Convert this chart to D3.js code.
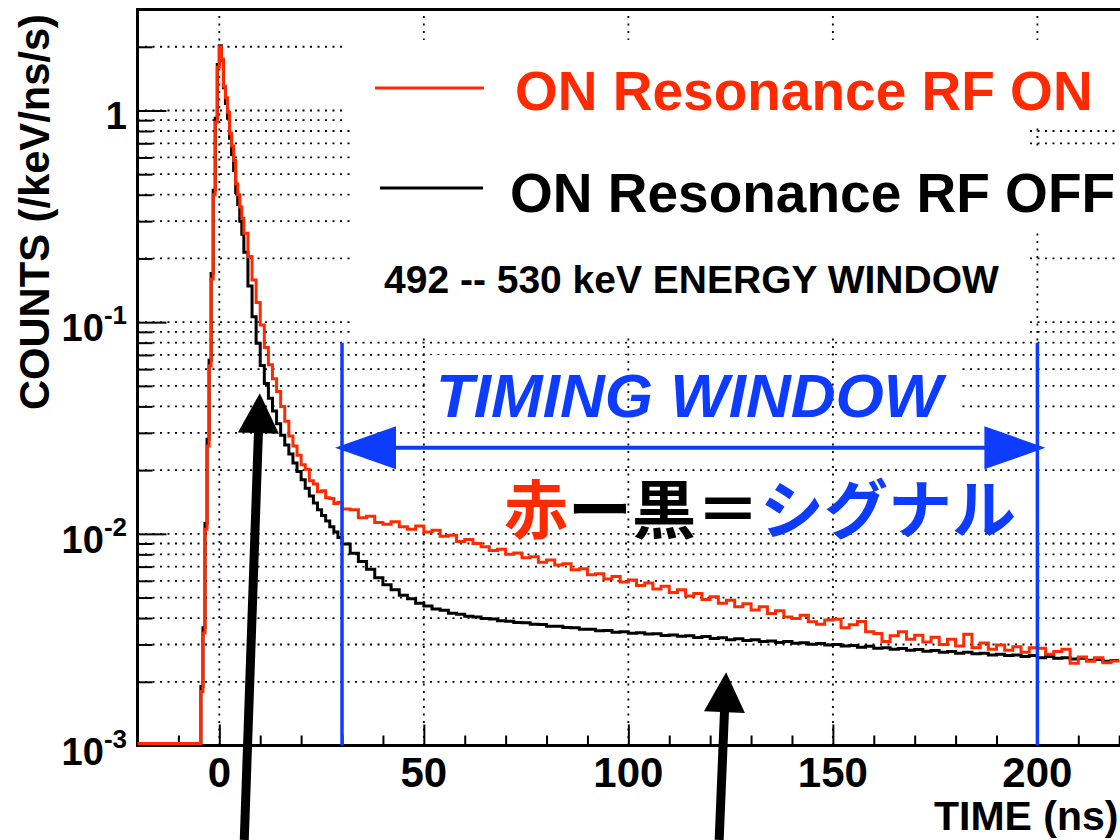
<!DOCTYPE html>
<html>
<head>
<meta charset="utf-8">
<script src="https://cdn.jsdelivr.net/npm/d3@7"></script>
<style>
  html, body { margin: 0; padding: 0; background: #fff; }
  svg { display: block; }
</style>
</head>
<body>
<div id="chart"></div>
<script>
// time binning (ns): [start, stop, width]
const timeSegments = [[-4.5, 6, 0.5], [6, 30, 1], [30, 221, 2]]
const timeStart = -20

// ON resonance, RF ON (red)
const rfOnPeak = [0.0018, 0.0034, 0.0105, 0.026, 0.062, 0.16, 0.40, 0.88, 1.6,
    2.0, 1.75, 1.3, 1.15, 0.98, 0.78, 0.68, 0.58, 0.45, 0.40, 0.35, 0.31]
const rfOnEarly = [0.263, 0.204, 0.158, 0.124, 0.097, 0.076, 0.063, 0.054, 0.047, 0.040,
    0.034, 0.029, 0.026, 0.0235, 0.0212, 0.0202, 0.0178, 0.0172, 0.0158, 0.0160,
    0.0148, 0.0147, 0.0139, 0.0141]
const rfOnTail = [0.0131, 0.0130, 0.0119, 0.0121, 0.0113, 0.0111, 0.0114, 0.0108, 0.0105, 0.0109,
    0.0102, 0.0104, 0.00975, 0.00985, 0.0092, 0.0094, 0.0090, 0.0087, 0.00835, 0.00845,
    0.0080, 0.00812, 0.0077, 0.0078, 0.00735, 0.00752, 0.00712, 0.00722, 0.00676, 0.00684,
    0.0064, 0.00648, 0.00612, 0.00628, 0.00592, 0.00606, 0.0057, 0.00586, 0.00548, 0.00565,
    0.00528, 0.00545, 0.00508, 0.00522, 0.0049, 0.00505, 0.0047, 0.00486, 0.00452, 0.00468,
    0.00437, 0.00452, 0.0042, 0.00433, 0.00405, 0.00398, 0.00412, 0.00384, 0.00374, 0.00392,
    0.00395, 0.0036, 0.00372, 0.00385, 0.00345, 0.00338, 0.0031, 0.0033, 0.00345, 0.00318,
    0.00332, 0.00308, 0.00325, 0.0030, 0.00318, 0.00295, 0.00335, 0.0029, 0.00305, 0.00285,
    0.00298, 0.00282, 0.00293, 0.00276, 0.0029, 0.00288, 0.0027, 0.00278, 0.00285, 0.00245,
    0.00262, 0.0025, 0.0026, 0.00246, 0.00251]

// ON resonance, RF OFF (black)
const rfOffPeak = [0.0019, 0.0036, 0.0112, 0.028, 0.066, 0.17, 0.42, 0.92, 1.65,
    2.02, 1.72, 1.28, 1.08, 0.92, 0.74, 0.62, 0.52, 0.41, 0.36, 0.30, 0.26]
const rfOffEarly = [0.214, 0.148, 0.106, 0.0794, 0.0624, 0.0513, 0.0437, 0.0380, 0.0331, 0.0292,
    0.0263, 0.0238, 0.0216, 0.0197, 0.0180, 0.0164, 0.0151, 0.0140, 0.0130, 0.0122,
    0.0115, 0.0108, 0.0102, 0.0096]
const rfOffTail = [0.00895, 0.0081, 0.0074, 0.0068, 0.0062, 0.00575, 0.00545, 0.00512, 0.00494, 0.0047,
    0.00456, 0.00441, 0.00435, 0.00422, 0.00417, 0.00408, 0.00405, 0.00398, 0.00396, 0.00389,
    0.00386, 0.00381, 0.0038, 0.00374, 0.00373, 0.00366, 0.00366, 0.00361, 0.0036, 0.00354,
    0.00354, 0.00348, 0.00349, 0.00343, 0.00345, 0.00339, 0.00341, 0.00336, 0.00337, 0.00331,
    0.00333, 0.00328, 0.0033, 0.00324, 0.00327, 0.0032, 0.00323, 0.00316, 0.00319, 0.00313,
    0.00316, 0.0031, 0.00312, 0.00307, 0.0031, 0.00304, 0.00306, 0.00301, 0.00303, 0.00298,
    0.0030, 0.00295, 0.00297, 0.00291, 0.00294, 0.00288, 0.0029, 0.00285, 0.00287, 0.00282,
    0.00284, 0.00279, 0.00281, 0.00276, 0.00278, 0.00273, 0.00276, 0.00271, 0.00273, 0.00268,
    0.0027, 0.00266, 0.00268, 0.00263, 0.00266, 0.0026, 0.00263, 0.00258, 0.0026, 0.00256,
    0.00258, 0.00253, 0.00255, 0.0025, 0.00252]

// axes
const xMajor = [0, 50, 100, 150, 200]
const xMinorStep = 10
const yDecades = [1e-3, 1e-2, 1e-1, 1]
const yExponents = ["-3", "-2", "-1", ""]
const yMultipliers = [2, 3, 4, 5, 6, 7, 8, 9]

// annotations (data units)
const timingWindow = [30, 200]
const windowTop = 0.08
const windowArrowLevel = 0.0255
const pointerArrows = [
    {from: [6.1, 3.58e-4], to: [9.9, 0.0462]},
    {from: [122.2, 3.58e-4], to: [123.9, 0.00222]}
]

const W = 1120, H = 840
const plotLeft = 137.5, plotRight = 1119.2, plotTop = 9.5, plotBottom = 745.5
const red = "#ff2a00", blue = "#0d3cff"
const font = "'Liberation Sans', Arial, Helvetica, sans-serif"

const svg = d3.select("#chart").append("svg")
    .attr("width", W)
    .attr("height", H)
    .style("font-family", font)

const x = d3.scaleLinear().domain([timeStart, 220]).range([plotLeft, plotRight])
const y = d3.scaleLog().domain([1e-3, 3]).range([plotBottom, plotTop])

// bin edges
let edges = [timeStart]
timeSegments.forEach(s => { edges = edges.concat(d3.range(s[0], s[1], s[2])) })

const rfOn = [0].concat(rfOnPeak, rfOnEarly, rfOnTail)
const rfOff = [0].concat(rfOffPeak, rfOffEarly, rfOffTail)

// grid
const yGrid = []
yDecades.forEach(d => yMultipliers.forEach(m => { if (d * m <= 3) yGrid.push(d * m) }))
const yAll = yDecades.concat(yGrid)

svg.append("g").selectAll("line")
    .data(yAll)
    .join("line")
        .attr("x1", plotLeft).attr("x2", W)
        .attr("y1", d => y(d)).attr("y2", d => y(d))
        .attr("stroke", "#000")
        .attr("stroke-width", 1.8)
        .attr("stroke-dasharray", "2,5.5")

// box behind TIMING WINDOW (hides horizontal grid only)
svg.append("rect")
    .attr("x", 426).attr("y", 355).attr("width", 532).attr("height", 77)
    .attr("fill", "#fff")

svg.append("g").selectAll("line")
    .data(xMajor)
    .join("line")
        .attr("x1", d => x(d)).attr("x2", d => x(d))
        .attr("y1", plotBottom).attr("y2", plotTop)
        .attr("stroke", "#000")
        .attr("stroke-width", 1.8)
        .attr("stroke-dasharray", "2,5.5")

// legend panels
const panels = [[347, 40, 773, 88], [355, 150, 765, 82], [355, 40, 670, 295]]
svg.append("g").selectAll("rect")
    .data(panels)
    .join("rect")
        .attr("x", d => d[0]).attr("y", d => d[1])
        .attr("width", d => d[2]).attr("height", d => d[3])
        .attr("fill", "#fff")

// ticks (drawn inside the frame)
const xMinor = d3.range(timeStart, 221, xMinorStep).filter(d => !xMajor.includes(d))
const tickStyle = g => {
    g.select(".domain").remove()
    g.selectAll("line").attr("stroke", "#000").attr("stroke-width", 2)
}
svg.append("g").attr("transform", `translate(0,${plotBottom})`)
    .call(d3.axisBottom(x).tickValues(xMinor).tickSize(-10).tickFormat(""))
    .call(tickStyle)
svg.append("g").attr("transform", `translate(0,${plotBottom})`)
    .call(d3.axisBottom(x).tickValues(xMajor).tickSize(-21).tickFormat(""))
    .call(tickStyle)
svg.append("g").attr("transform", `translate(${plotLeft},0)`)
    .call(d3.axisLeft(y).tickValues(yGrid).tickSize(-15).tickFormat(""))
    .call(tickStyle)
svg.append("g").attr("transform", `translate(${plotLeft},0)`)
    .call(d3.axisLeft(y).tickValues(yDecades).tickSize(-29).tickFormat(""))
    .call(tickStyle)

// frame
svg.append("path")
    .attr("d", `M${W},${plotTop}H${plotLeft}V${plotBottom}H${W}`)
    .attr("fill", "none")
    .attr("stroke", "#000")
    .attr("stroke-width", 3)

// histograms
const stepPoints = vals => vals.flatMap((v, i) => [[edges[i], v], [edges[i + 1], v]])
const histLine = d3.line()
    .x(d => x(d[0]))
    .y(d => Math.min(y(Math.max(d[1], 1e-4)), plotBottom - 2))

svg.append("path")
    .datum(stepPoints(rfOff))
    .attr("d", histLine)
    .attr("fill", "none")
    .attr("stroke", "#000")
    .attr("stroke-width", 3)

svg.append("path")
    .datum(stepPoints(rfOn))
    .attr("d", histLine)
    .attr("fill", "none")
    .attr("stroke", red)
    .attr("stroke-width", 3)

// timing window
svg.append("g").selectAll("line")
    .data(timingWindow)
    .join("line")
        .attr("x1", d => x(d)).attr("x2", d => x(d))
        .attr("y1", y(windowTop)).attr("y2", plotBottom)
        .attr("stroke", blue)
        .attr("stroke-width", 3.5)

const ay = y(windowArrowLevel)
const ax0 = x(timingWindow[0]) - 7, ax1 = x(timingWindow[1]) + 8
svg.append("line")
    .attr("x1", ax0 + 40).attr("x2", ax1 - 40)
    .attr("y1", ay).attr("y2", ay)
    .attr("stroke", blue)
    .attr("stroke-width", 4)
svg.append("polygon")
    .attr("points", `${ax0},${ay} ${ax0 + 61},${ay - 21.5} ${ax0 + 61},${ay + 21.5}`)
    .attr("fill", blue)
svg.append("polygon")
    .attr("points", `${ax1},${ay} ${ax1 - 61},${ay - 21.5} ${ax1 - 61},${ay + 21.5}`)
    .attr("fill", blue)

// black pointer arrows
pointerArrows.forEach(a => {
    const x0 = x(a.from[0]), y0 = y(a.from[1])
    const x1 = x(a.to[0]), y1 = y(a.to[1])
    const len = Math.hypot(x1 - x0, y1 - y0)
    const ux = (x1 - x0) / len, uy = (y1 - y0) / len
    const hl = 40, hw = 20.5
    const bx = x1 - ux * hl, by = y1 - uy * hl
    svg.append("line")
        .attr("x1", x0).attr("y1", y0)
        .attr("x2", bx + ux * 2).attr("y2", by + uy * 2)
        .attr("stroke", "#000")
        .attr("stroke-width", 9)
    svg.append("polygon")
        .attr("points", `${x1},${y1} ${bx - uy * hw},${by + ux * hw} ${bx + uy * hw},${by - ux * hw}`)
        .attr("fill", "#000")
})

// tick labels
svg.append("g").selectAll("text")
    .data(xMajor)
    .join("text")
        .attr("x", d => x(d))
        .attr("y", 787)
        .attr("text-anchor", "middle")
        .attr("font-size", 42)
        .attr("font-weight", "bold")
        .text(d => d)

const yLabels = svg.append("g").selectAll("text")
    .data(yDecades)
    .join("text")
        .attr("x", 127)
        .attr("y", d => y(d) + 19)
        .attr("text-anchor", "end")
        .attr("font-size", 38)
        .attr("font-weight", "bold")
yLabels.append("tspan").text((d, i) => yExponents[i] ? "10" : "1")
yLabels.append("tspan")
    .attr("font-size", 26)
    .attr("dy", -17)
    .text((d, i) => yExponents[i])

// axis titles
svg.append("text")
    .attr("x", 934)
    .attr("y", 830)
    .attr("font-size", 41)
    .attr("font-weight", "bold")
    .text("TIME (ns)")

svg.append("text")
    .attr("transform", "translate(49,410) rotate(-90)")
    .attr("font-size", 43)
    .attr("font-weight", "bold")
    .attr("textLength", 396)
    .attr("lengthAdjust", "spacingAndGlyphs")
    .text("COUNTS (/keV/ns/s)")

// legend
svg.append("line")
    .attr("x1", 375).attr("x2", 484).attr("y1", 88).attr("y2", 88)
    .attr("stroke", red).attr("stroke-width", 3)
svg.append("line")
    .attr("x1", 380).attr("x2", 483).attr("y1", 188).attr("y2", 188)
    .attr("stroke", "#000").attr("stroke-width", 3)

svg.append("text")
    .attr("x", 515).attr("y", 110)
    .attr("font-size", 55).attr("font-weight", "bold")
    .attr("fill", red)
    .text("ON Resonance RF ON")
svg.append("text")
    .attr("x", 510).attr("y", 212)
    .attr("font-size", 55).attr("font-weight", "bold")
    .attr("fill", "#000")
    .text("ON Resonance RF OFF")

svg.append("text")
    .attr("x", 384).attr("y", 293)
    .attr("font-size", 39).attr("font-weight", "bold")
    .text("492 -- 530 keV ENERGY WINDOW")

svg.append("text")
    .attr("x", 436).attr("y", 417)
    .attr("font-size", 62).attr("font-weight", "bold")
    .attr("font-style", "italic")
    .attr("fill", blue)
    .text("TIMING WINDOW")

const sig = svg.append("text")
    .attr("x", 504).attr("y", 533)
    .attr("font-size", 64).attr("font-weight", "bold")
    .style("font-family", "'Noto Sans CJK JP', 'Noto Sans CJK SC', sans-serif")
sig.append("tspan").attr("fill", red).text("赤")
sig.append("tspan").attr("fill", "#000").text("ー黒＝")
sig.append("tspan").attr("fill", blue).text("シグナル")
</script>
</body>
</html>
